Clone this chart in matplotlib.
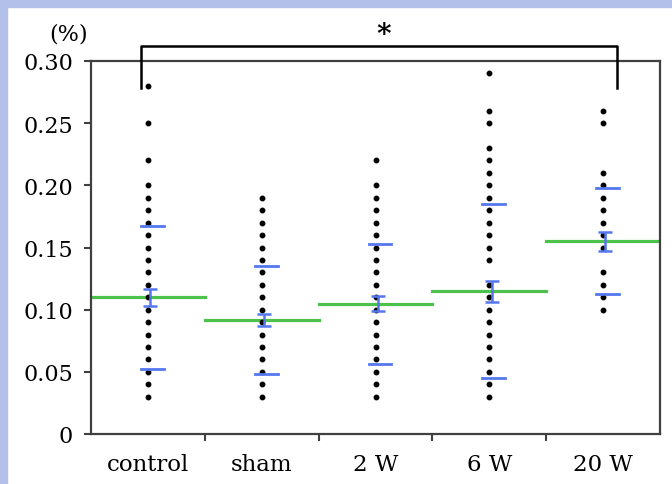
import matplotlib
matplotlib.use("Agg")
import matplotlib.pyplot as plt
from matplotlib.patches import Rectangle

groups = ["control", "sham", "2 W", "6 W", "20 W"]

# individual values (one dot per distinct value)
dots_control = [0.03, 0.04, 0.05, 0.06, 0.07, 0.08, 0.09, 0.10, 0.11, 0.12, 0.13,
                0.14, 0.15, 0.16, 0.17, 0.18, 0.19, 0.20, 0.22, 0.25, 0.28]
dots_sham = [0.03, 0.04, 0.05, 0.06, 0.07, 0.08, 0.09, 0.10, 0.11, 0.12, 0.13,
             0.14, 0.15, 0.16, 0.17, 0.18, 0.19]
dots_2w = [0.03, 0.04, 0.05, 0.06, 0.07, 0.08, 0.09, 0.10, 0.11, 0.12, 0.13,
           0.14, 0.15, 0.16, 0.17, 0.18, 0.19, 0.20, 0.22]
dots_6w = [0.03, 0.04, 0.05, 0.06, 0.07, 0.08, 0.09, 0.10, 0.11, 0.12, 0.14,
           0.15, 0.16, 0.17, 0.18, 0.19, 0.20, 0.21, 0.22, 0.23, 0.25, 0.26, 0.29]
dots_20w = [0.10, 0.11, 0.12, 0.13, 0.15, 0.16, 0.17, 0.18, 0.19, 0.20, 0.21,
            0.25, 0.26]
dots = [dots_control, dots_sham, dots_2w, dots_6w, dots_20w]

means = [0.110, 0.0915, 0.1046, 0.1148, 0.1550]
sem = [0.0067, 0.0050, 0.0060, 0.0085, 0.0075]
sd = [0.0575, 0.0435, 0.0480, 0.0700, 0.0425]

yticks = [0, 0.05, 0.10, 0.15, 0.20, 0.25, 0.30]
ytick_labels = ["0", "0.05", "0.10", "0.15", "0.20", "0.25", "0.30"]

FONT = "DejaVu Serif"
GREEN = "#4cc24c"
BLUE = "#5577ee"
SPINE = "#404040"

fig = plt.figure(figsize=(6.72, 4.85), dpi=100)
fig.patches.append(Rectangle((0, 0), 7 / 672, 1, transform=fig.transFigure,
                             color="#b3c0ea", zorder=0))
fig.patches.append(Rectangle((0, 1 - 8 / 485), 1, 8 / 485, transform=fig.transFigure,
                             color="#b3c0ea", zorder=0))

ax = fig.add_axes([91 / 672, 1 - 435 / 485, 569 / 672, 373 / 485])

for i, vals in enumerate(dots):
    xc = i + 0.5
    ax.plot([xc] * len(vals), vals, "o", color="black", ms=3.2, zorder=3)
    # mean line spanning the group
    ax.plot([i, i + 1], [means[i], means[i]], color=GREEN, lw=2.3, zorder=2)
    # SD marks
    for v in (means[i] + sd[i], means[i] - sd[i]):
        ax.plot([xc - 0.06, xc + 0.14], [v, v], color=BLUE, lw=2.0, zorder=4)
    # SEM error bar
    ax.errorbar(xc + 0.02, means[i], yerr=sem[i], color=BLUE, lw=1.8,
                capsize=5, capthick=1.8, zorder=4)

ax.set_xlim(0, 5)
ax.set_ylim(0, 0.30)
ax.set_yticks(yticks)
ax.set_yticklabels(ytick_labels, fontfamily=FONT, fontsize=16)
ax.tick_params(axis="y", length=5, width=1.5, color=SPINE, pad=8)

ax.set_xticks([1, 2, 3, 4])
ax.set_xticklabels([])
ax.tick_params(axis="x", which="major", length=5, width=1.5, color=SPINE)
ax.set_xticks([i + 0.5 for i in range(len(groups))], minor=True)
ax.set_xticklabels(groups, minor=True, fontfamily=FONT, fontsize=16.5)
ax.tick_params(axis="x", which="minor", length=0, pad=14)

for s in ax.spines.values():
    s.set_color(SPINE)
    s.set_linewidth(1.6)

# significance bracket
ax.plot([0.44, 0.44, 4.62, 4.62], [0.278, 0.312, 0.312, 0.278],
        color="black", lw=1.8, clip_on=False, zorder=5)
ax.text(2.57, 0.321, "*", ha="center", va="center", fontsize=20,
        fontfamily=FONT, fontweight="bold")

fig.text(69 / 672, 1 - 35 / 485, "(%)", ha="center", va="center",
         fontsize=16, fontfamily=FONT)

fig.savefig("out.png", dpi=100)
